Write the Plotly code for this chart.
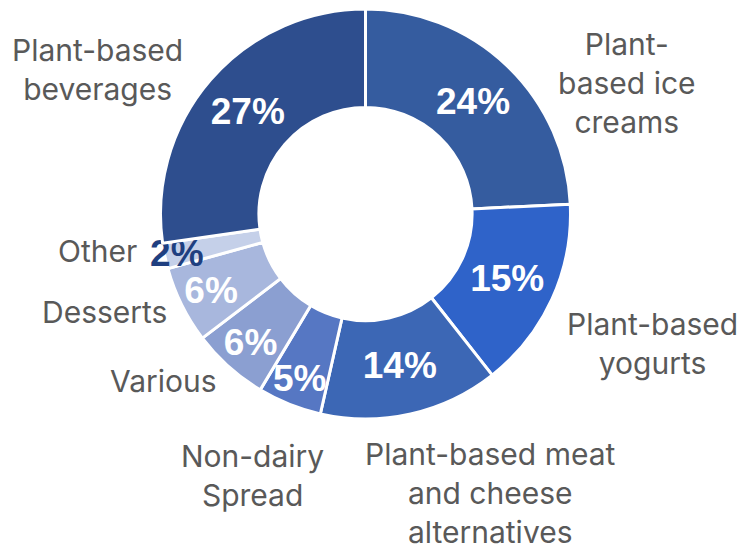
import plotly.graph_objects as go

# Category shares (percent), clockwise from 12 o'clock
categories = [
    "Plant-based ice creams",
    "Plant-based yogurts",
    "Plant-based meat and cheese alternatives",
    "Non-dairy Spread",
    "Various",
    "Desserts",
    "Other",
    "Plant-based beverages",
]
shares = [24, 15, 14, 5, 6, 6, 2, 27]
slice_colors = ["#355c9f", "#2f63c9", "#3c67b5", "#5677c3",
                "#8b9fd1", "#a8b7dd", "#c5d0e9", "#2e4e8e"]
pct_colors = ["white"] * 6 + ["#1f3f80", "white"]

# Outside label text and where each block sits (pixel centre in a 740x550 page)
label_text = [
    "Plant-<br>based ice<br>creams",
    "Plant-based<br>yogurts",
    "Plant-based meat<br>and cheese<br>alternatives",
    "Non-dairy<br>Spread",
    "Various",
    "Desserts",
    "Other",
    "Plant-based<br>beverages",
]
label_px = [(627, 83), (652, 343), (490, 493), (252, 475),
            (163, 381), (104, 312), (97, 251), (97, 69)]

W, H = 740, 550
cx, cy, R = 365.5, 214, 205

fig = go.Figure(go.Pie(
    labels=categories,
    values=shares,
    sort=False,
    direction="clockwise",
    rotation=0,
    hole=0.52,
    marker=dict(colors=slice_colors, line=dict(color="white", width=3)),
    texttemplate="%{value}%",
    textposition="inside",
    insidetextorientation="horizontal",
    textfont=dict(family="Liberation Sans", size=37, color=pct_colors, weight="bold"),
    showlegend=False,
    domain=dict(x=[(cx - R) / W, (cx + R) / W],
                y=[(H - cy - R) / H, (H - cy + R) / H]),
))

for txt, (px, py) in zip(label_text, label_px):
    fig.add_annotation(
        x=px / W, y=1 - py / H, xref="paper", yref="paper",
        text=txt, showarrow=False, xanchor="center", yanchor="middle",
        align="center",
        font=dict(family="Inter", size=30, color="#595959"),
    )

fig.update_layout(
    width=W, height=H,
    margin=dict(l=0, r=0, t=0, b=0),
    paper_bgcolor="white", plot_bgcolor="white",
    uniformtext=dict(minsize=37, mode="show"),
)

fig.write_html("out.html")
